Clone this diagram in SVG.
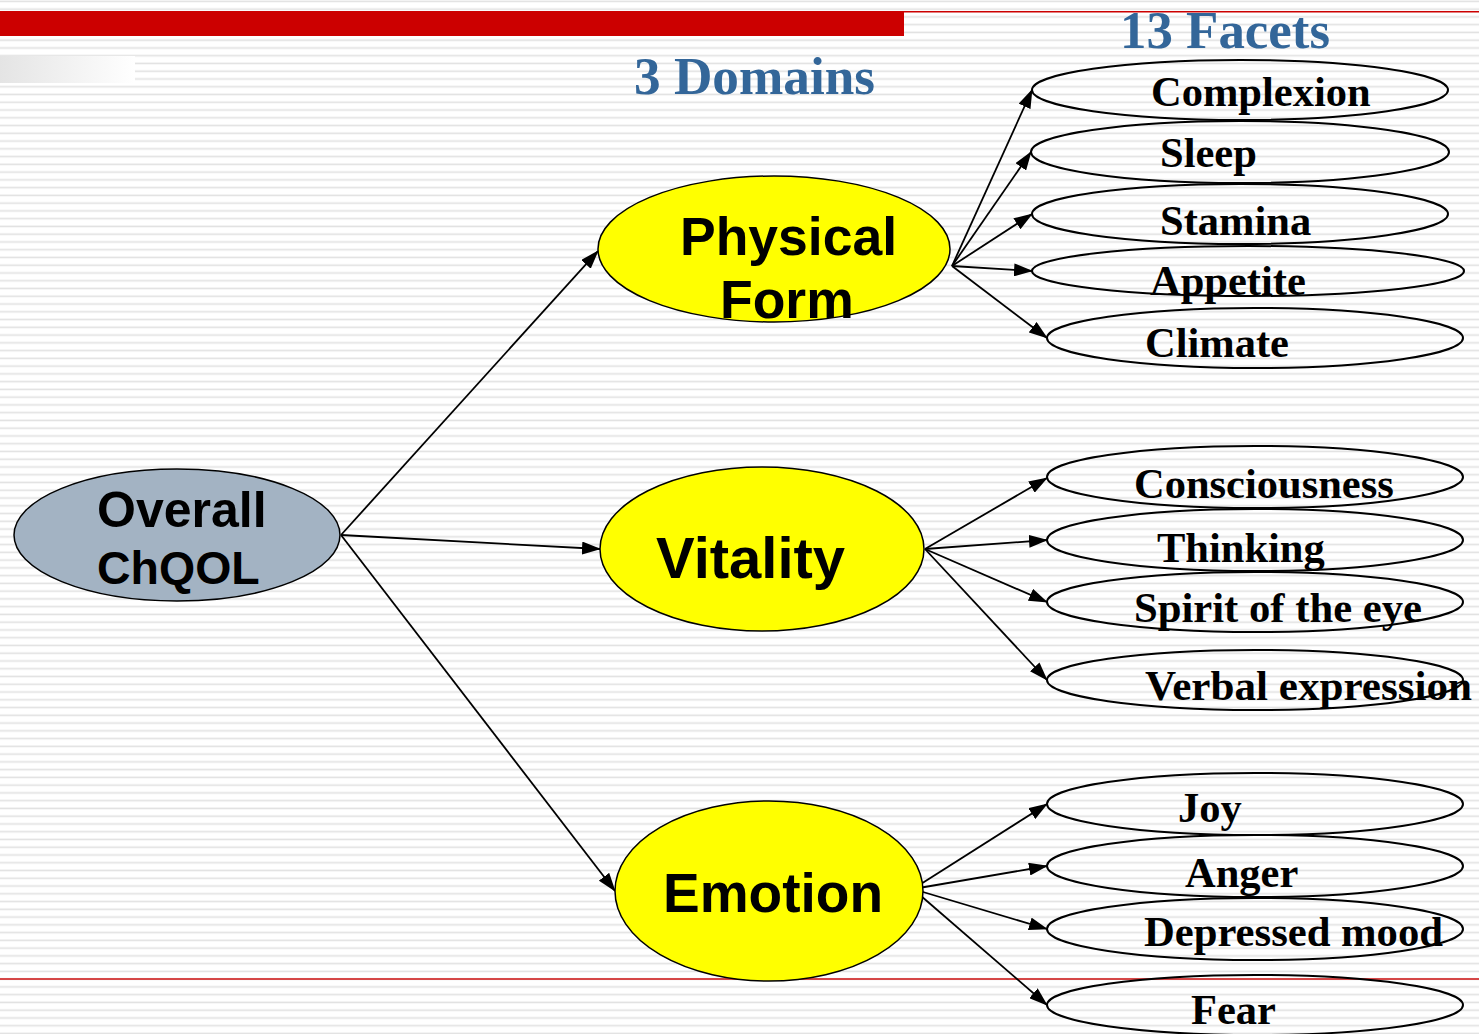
<svg xmlns="http://www.w3.org/2000/svg" width="1479" height="1034" viewBox="0 0 1479 1034">
<style>
.facet{fill:none;stroke:#000;stroke-width:2}
.domain{fill:#ffff00;stroke:#000;stroke-width:1.5}
.ftext{font-family:"Liberation Serif","Times New Roman",serif;font-weight:bold;font-size:42.5px;fill:#000}
.dtext{font-family:"Liberation Sans",Arial,sans-serif;font-weight:bold;fill:#000}
.title{font-family:"Liberation Serif","Times New Roman",serif;font-weight:bold;font-size:52px;fill:#336699}
.conn line{stroke:#000;stroke-width:1.8;marker-end:url(#arr)}
</style>
<defs>
<pattern id="stripes" patternUnits="userSpaceOnUse" width="20" height="7.76">
<rect x="0" y="0" width="20" height="7.76" fill="#ffffff"/>
<rect x="0" y="0.6" width="20" height="1.6" fill="#e2e2e2"/>
</pattern>
<linearGradient id="fade" x1="0" y1="0" x2="1" y2="0">
<stop offset="0" stop-color="#e4e4e4"/>
<stop offset="1" stop-color="#ffffff"/>
</linearGradient>
<marker id="arr" markerUnits="userSpaceOnUse" markerWidth="19" markerHeight="13" viewBox="0 0 19 13" refX="18" refY="6.5" orient="auto">
<path d="M0,0 L19,6.5 L0,13 z" fill="#000"/>
</marker>
</defs>
<g id="background">
<rect x="0" y="0" width="1479" height="1034" fill="url(#stripes)"/>
<rect x="0" y="11" width="904" height="25" fill="#cc0000"/>
<rect x="904" y="11" width="575" height="1.5" fill="#cc0000"/>
<rect x="0" y="56" width="135" height="27" fill="url(#fade)"/>
<rect x="0" y="978.3" width="1479" height="1.4" fill="#cc0000"/>
</g>
<g id="titles">
<text class="title" x="634" y="94" textLength="241" lengthAdjust="spacingAndGlyphs">3 Domains</text>
<text class="title" x="1120" y="48" textLength="210" lengthAdjust="spacingAndGlyphs">13 Facets</text>
</g>
<g id="connectors" class="conn">
<line x1="341" y1="535" x2="598" y2="251"/>
<line x1="341" y1="535" x2="600" y2="549"/>
<line x1="341" y1="535" x2="615" y2="891"/>
<line x1="952" y1="266" x2="1032" y2="90"/>
<line x1="952" y1="266" x2="1031" y2="152"/>
<line x1="952" y1="266" x2="1032" y2="214"/>
<line x1="952" y1="266" x2="1032" y2="271"/>
<line x1="952" y1="266" x2="1047" y2="338"/>
<line x1="925" y1="549" x2="1047" y2="478"/>
<line x1="925" y1="549" x2="1047" y2="540"/>
<line x1="925" y1="549" x2="1047" y2="602"/>
<line x1="925" y1="549" x2="1047" y2="680"/>
<line x1="913" y1="889" x2="1047" y2="804"/>
<line x1="913" y1="889" x2="1047" y2="866"/>
<line x1="913" y1="889" x2="1047" y2="929"/>
<line x1="913" y1="889" x2="1047" y2="1005"/>
</g>
<g id="overall">
<ellipse cx="177" cy="535" rx="163" ry="66" fill="#a3b3c3" stroke="#000" stroke-width="1.5"/>
<text class="dtext" x="97" y="527" font-size="50">Overall</text>
<text class="dtext" x="97" y="584" font-size="46.5">ChQOL</text>
</g>
<g id="physical-form">
<ellipse class="domain" cx="774" cy="249" rx="176" ry="73"/>
<text class="dtext" x="680" y="255" font-size="53.5">Physical</text>
<text class="dtext" x="720" y="318" font-size="53.5">Form</text>
</g>
<g id="vitality">
<ellipse class="domain" cx="762" cy="549" rx="162" ry="82"/>
<text class="dtext" x="656" y="578" font-size="58">Vitality</text>
</g>
<g id="emotion">
<ellipse class="domain" cx="769" cy="891" rx="154" ry="90"/>
<text class="dtext" x="663" y="912" font-size="55">Emotion</text>
</g>
<g id="complexion"><ellipse class="facet" cx="1240" cy="90" rx="208" ry="30"/><text class="ftext" x="1151" y="106">Complexion</text></g>
<g id="sleep"><ellipse class="facet" cx="1240" cy="152" rx="209" ry="31"/><text class="ftext" x="1160" y="167">Sleep</text></g>
<g id="stamina"><ellipse class="facet" cx="1240" cy="214" rx="208" ry="30"/><text class="ftext" x="1160" y="235">Stamina</text></g>
<g id="appetite"><ellipse class="facet" cx="1248" cy="271" rx="216" ry="25"/><text class="ftext" x="1150" y="295">Appetite</text></g>
<g id="climate"><ellipse class="facet" cx="1255" cy="338" rx="208" ry="30"/><text class="ftext" x="1145" y="357">Climate</text></g>
<g id="consciousness"><ellipse class="facet" cx="1255" cy="477" rx="208" ry="31"/><text class="ftext" x="1134" y="498">Consciousness</text></g>
<g id="thinking"><ellipse class="facet" cx="1255" cy="540" rx="208" ry="31"/><text class="ftext" x="1157" y="562">Thinking</text></g>
<g id="spirit"><ellipse class="facet" cx="1255" cy="602" rx="208" ry="30"/><text class="ftext" x="1134" y="622" textLength="288" lengthAdjust="spacingAndGlyphs">Spirit of the eye</text></g>
<g id="verbal"><ellipse class="facet" cx="1255" cy="680" rx="208" ry="30"/><text class="ftext" x="1145" y="700" textLength="327" lengthAdjust="spacingAndGlyphs">Verbal expression</text></g>
<g id="joy"><ellipse class="facet" cx="1255" cy="804" rx="208" ry="31"/><text class="ftext" x="1178" y="822">Joy</text></g>
<g id="anger"><ellipse class="facet" cx="1255" cy="866" rx="208" ry="31"/><text class="ftext" x="1185" y="887">Anger</text></g>
<g id="depressed"><ellipse class="facet" cx="1255" cy="929" rx="208" ry="31"/><text class="ftext" x="1144" y="946" textLength="299" lengthAdjust="spacingAndGlyphs">Depressed mood</text></g>
<g id="fear"><ellipse class="facet" cx="1255" cy="1005" rx="208" ry="30"/><text class="ftext" x="1191" y="1024">Fear</text></g>
</svg>
